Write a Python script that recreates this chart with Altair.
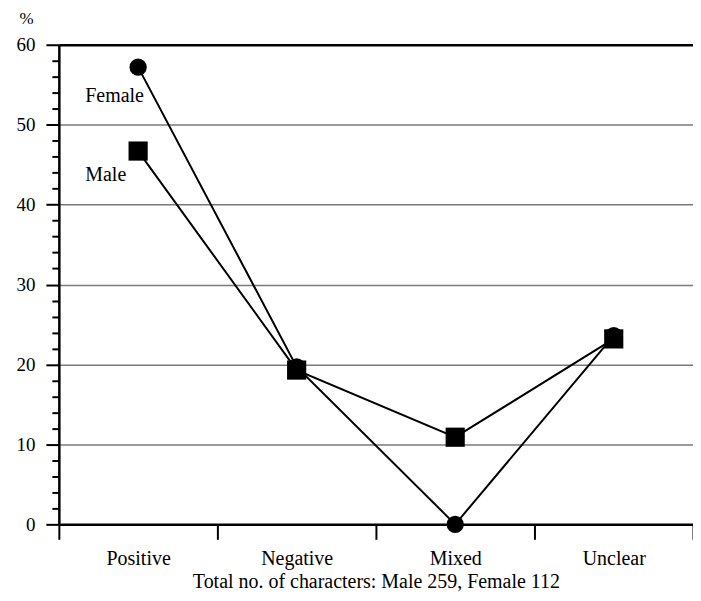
import altair as alt
import pandas as pd

categories = ["Positive", "Negative", "Mixed", "Unclear"]
female = [57.2, 19.7, 0.0, 23.6]
male = [46.7, 19.3, 10.9, 23.2]
series = ["Female", "Male"]
y_ticks = list(range(0, 61, 2))
x_title = "Total no. of characters: Male 259, Female 112"

rows = []
for s, vals in zip(series, [female, male]):
    for c, v in zip(categories, vals):
        rows.append({"category": c, "series": s, "value": v})
df = pd.DataFrame(rows)

FONT = "Liberation Serif"

x_enc = alt.X(
    "category:N",
    sort=categories,
    scale=alt.Scale(domain=categories, paddingInner=0, paddingOuter=0),
    axis=alt.Axis(
        title=x_title,
        labelAngle=0,
        tickBand="extent",
        tickSize=15,
        tickWidth=2,
        tickColor="black",
        domainColor="black",
        domainWidth=2.5,
        labelPadding=9,
        labelFont=FONT,
        labelFontSize=20,
        labelColor="black",
        titleFont=FONT,
        titleFontSize=20,
        titleFontWeight="normal",
        titleColor="black",
        titleBaseline="alphabetic",
        titleY=63,
        grid=False,
    ),
)

y_enc = alt.Y(
    "value:Q",
    scale=alt.Scale(domain=[0, 60], nice=False, zero=True),
    axis=alt.Axis(
        values=y_ticks,
        tickCount=100,
        format="d",
        labelExpr="datum.value % 10 == 0 ? datum.label : ''",
        labelOverlap=False,
        tickSize={"expr": "datum.value % 10 == 0 ? 13 : 7"},
        tickWidth=2,
        tickColor="black",
        domainColor="black",
        domainWidth=2.5,
        labelPadding=11,
        labelFont=FONT,
        labelFontSize=19,
        labelColor="black",
        grid=True,
        gridOpacity={"expr": "datum.value % 10 == 0 ? 1 : 0"},
        gridColor={"expr": "datum.value == 60 ? 'black' : '#7a7a7a'"},
        gridWidth={"expr": "datum.value == 60 ? 2.5 : 1.5"},
        title="%",
        titleAngle=0,
        titleX=-33,
        titleY=-21,
        titleAlign="center",
        titleBaseline="alphabetic",
        titleFont=FONT,
        titleFontSize=17,
        titleFontWeight="normal",
        titleColor="black",
    ),
)

base = alt.Chart(df)

lines = base.mark_line(color="black", strokeWidth=2).encode(
    x=x_enc, y=y_enc, detail="series:N"
)

points = base.mark_point(filled=True, color="black", opacity=1).encode(
    x=x_enc,
    y=y_enc,
    shape=alt.Shape("series:N", scale=alt.Scale(domain=series, range=["circle", "square"]), legend=None),
    size=alt.Size("series:N", scale=alt.Scale(domain=series, range=[300, 370]), legend=None),
)

female_lbl = alt.Chart(pd.DataFrame({"t": ["Female"]})).mark_text(
    font=FONT, fontSize=20, color="black", align="left", baseline="alphabetic", dx=-53
).encode(x=alt.datum("Positive"), y=alt.datum(52.8), text="t:N")

male_lbl = alt.Chart(pd.DataFrame({"t": ["Male"]})).mark_text(
    font=FONT, fontSize=20, color="black", align="left", baseline="alphabetic", dx=-53
).encode(x=alt.datum("Positive"), y=alt.datum(43.0), text="t:N")

chart = (
    alt.layer(lines, points, female_lbl, male_lbl)
    .properties(
        width=636,
        height=481,
        autosize=alt.AutoSizeParams(type="none"),
        padding={"left": 51, "top": 36, "right": 0, "bottom": 67},
    )
    .configure_view(stroke=None)
    .configure(background="white")
)

chart.save("out.html", embed_options={"renderer": "svg", "actions": False})
